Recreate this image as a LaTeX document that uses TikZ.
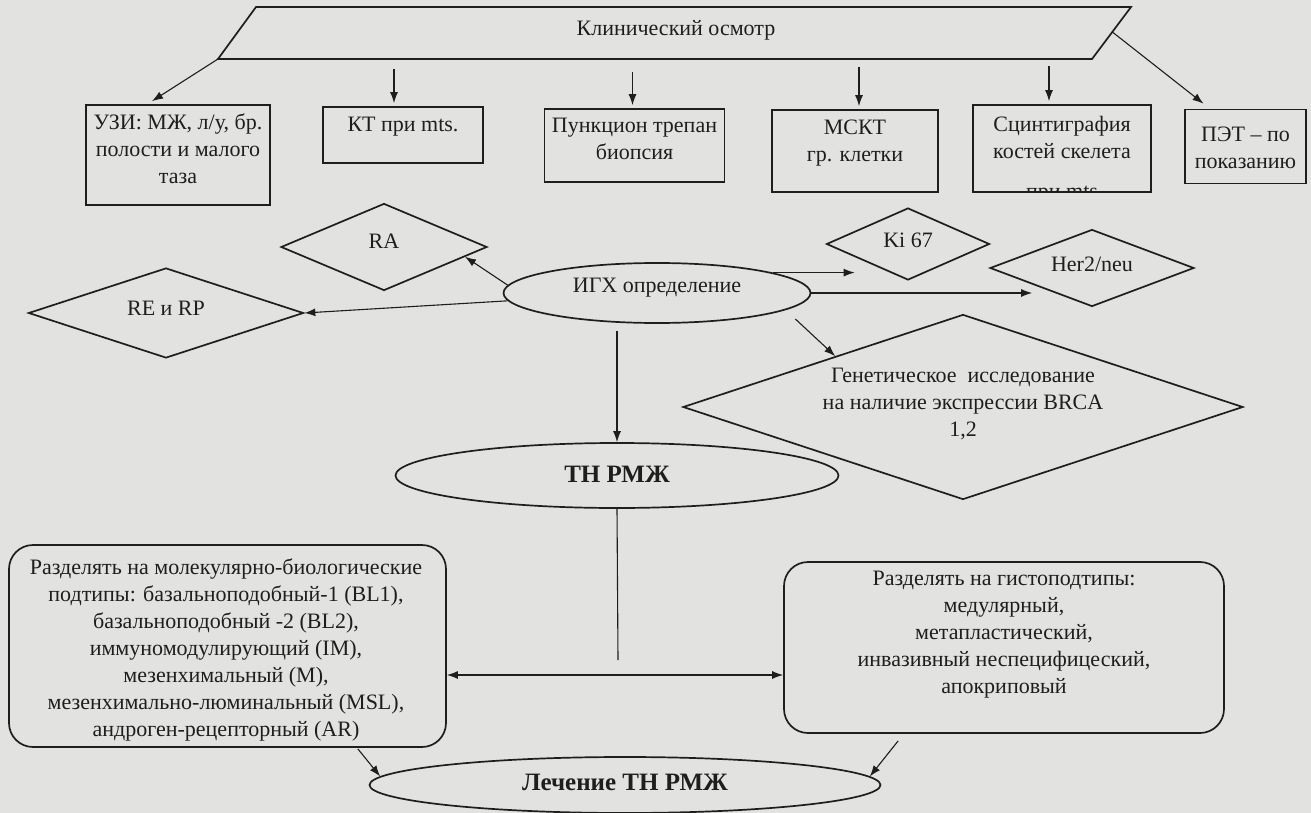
\documentclass[tikz,border=0pt]{standalone}
\usepackage{fontspec}
\setmainfont{Liberation Serif}
\usetikzlibrary{shapes.geometric,arrows.meta,calc}
\definecolor{bg}{RGB}{226,226,224}
\definecolor{ink}{RGB}{30,30,30}
\begin{document}
\begin{tikzpicture}[x=1pt,y=-1pt,
  base/.style={font=\fontsize{22}{27}\selectfont, text=ink},
  shapeline/.style={draw=ink, line width=1.7pt},
  box/.style={shapeline, rectangle, inner sep=0pt},
  rbox/.style={shapeline, rectangle, rounded corners=24pt, inner sep=0pt},
  dia/.style={shapeline, diamond, inner sep=0pt},
  ell/.style={shapeline, ellipse, inner sep=0pt},
  txt/.style={base, align=center, inner sep=0pt},
  btxt/.style={txt, font=\fontsize{25}{29}\selectfont\bfseries},
  arr/.style={draw=ink, line width=1.1pt, -{Latex[length=11pt,width=8pt]}},
  arrb/.style={draw=ink, line width=1.1pt, {Latex[length=11pt,width=8pt]}-{Latex[length=11pt,width=8pt]}},
  plain/.style={draw=ink, line width=1.1pt}
]
\useasboundingbox (0,0) rectangle (1311,813);
\fill[bg] (0,0) rectangle (1311,813);

% parallelogram
\coordinate (p1) at (256,7);
\coordinate (p2) at (1131,7);
\coordinate (p3) at (1092,59);
\coordinate (p4) at (218,59);
\draw[shapeline] (p1) -- (p2) -- (p3) -- (p4) -- cycle;
\node[txt] (clin) at (676,30) {Клинический осмотр};

% top boxes
\node[box, minimum width=184, minimum height=100] (uzi) at (178,155) {};
\node[txt] (uzit) at (178,149) {УЗИ: МЖ, л/у, бр.\\полости и малого\\таза};
\node[box, minimum width=160, minimum height=56] (kt) at (403,135) {};
\node[txt] (ktt) at (403,127) {КТ при mts.};
\node[box, minimum width=180, minimum height=73] (pt) at (634.5,145.5) {};
\node[txt] (ptt) at (634.5,139) {Пункцион трепан\\биопсия};
\node[box, minimum width=166, minimum height=82] (mskt) at (855,151) {};
\node[txt] (msktt) at (855,143) {МСКТ\\гр. клетки};
\node[box, minimum width=178, minimum height=87] (scint) at (1062,148.5) {};
\node[txt] (scintt) at (1062,137) {Сцинтиграфия\\костей скелета};
\begin{scope}
  \clip (scint.south west) rectangle (scint.north east);
  \node[txt, anchor=base] (scintc) at (1062,199) {при mts};
\end{scope}
\node[box, minimum width=121, minimum height=74] (pet) at (1245.5,146.5) {};
\node[txt] (pett) at (1245.5,148) {ПЭТ – по\\показанию};

% arrows from parallelogram
\draw[arr] (p4) -- ([xshift=-26pt,yshift=3pt]uzi.north);
\draw[arr] ([xshift=-9pt,yshift=37pt]kt.north) -- ([xshift=-9pt,yshift=3pt]kt.north);
\draw[arr] ([xshift=-2pt,yshift=36pt]pt.north) -- ([xshift=-2pt,yshift=3pt]pt.north);
\draw[arr] ([xshift=4pt,yshift=42pt]mskt.north) -- ([xshift=4pt,yshift=3pt]mskt.north);
\draw[arr] ([xshift=-13pt,yshift=38pt]scint.north) -- ([xshift=-13pt,yshift=3pt]scint.north);
\draw[arr] ($(p2)!0.48!(p3)$) -- ([xshift=-42pt,yshift=5pt]pet.north);

% IHC ellipse and diamonds
\node[ell, minimum width=307, minimum height=60] (igh) at (657,293) {};
\node[txt] (ight) at (657,288) {ИГХ определение};
\node[dia, minimum width=206, minimum height=87] (ra) at (384,247) {};
\node[txt] (rat) at (384,241) {RA};
\node[dia, minimum width=275, minimum height=90] (rerp) at (166,313) {};
\node[txt] (rerpt) at (166,308) {RE и RP};
\node[dia, minimum width=163, minimum height=72] (ki) at (908,244) {};
\node[txt] (kit) at (908,240) {Ki 67};
\node[dia, minimum width=204, minimum height=77] (her) at (1092,268) {};
\node[txt] (hert) at (1092,264) {Her2/neu};
\node[dia, minimum width=560, minimum height=185] (gen) at (963,407) {};
\node[txt] (gent) at (963,404) {Генетическое\ \ исследование\\на наличие экспрессии BRCA\\1,2};

\draw[arr] (igh.177) -- ($(ra.east)!0.22!(ra.south)$);
\draw[arr] (igh.183) -- (rerp.east);
\draw[arr] (igh.10) -- ([xshift=29pt]ki.west |- igh.10);
\draw[arr] (igh.east) -- ([xshift=43pt]her.west |- igh.east);
\draw[arr] ([xshift=-16pt,yshift=-26pt]igh.east) -- ($(gen.west)!0.545!(gen.north)$);

% TN ellipse
\node[ell, minimum width=443, minimum height=65] (tn) at (617,475.5) {};
\node[btxt] (tnt) at (617,474) {ТН РМЖ};
\draw[arr] ($(igh.south -| tn.north)+(0,7)$) -- (tn.north);

% split
\node[rbox, minimum width=437, minimum height=202] (lbox) at (227.5,646) {};
\node[txt] (lboxt) at (226,650) {Разделять на молекулярно-биологические\\подтипы: базальноподобный-1 (BL1),\\базальноподобный -2 (BL2),\\иммуномодулирующий (IM),\\мезенхимальный (М),\\мезенхимально-люминальный (MSL),\\андроген-рецепторный (AR)};
\node[rbox, minimum width=440, minimum height=171] (rbox) at (1004,647.5) {};
\node[txt] (rboxt) at (1004,635) {Разделять на гистоподтипы:\\медулярный,\\метапластический,\\инвазивный неспецифицеский,\\апокриповый};

\coordinate (hs) at (618,675);
\draw[plain] (tn.south) -- ([yshift=15pt]hs);
\draw[arrb] (lbox.east |- hs) -- (rbox.west |- hs);

% treatment
\node[ell, minimum width=511, minimum height=56] (lech) at (625,785) {};
\node[btxt] (lecht) at (625,782) {Лечение ТН РМЖ};
\draw[arr] ([xshift=-89pt,yshift=-1pt]lbox.south east) -- (lech.178);
\draw[arr] ([xshift=115pt,yshift=-7pt]rbox.south west) -- (lech.2.4);
\end{tikzpicture}
\end{document}
